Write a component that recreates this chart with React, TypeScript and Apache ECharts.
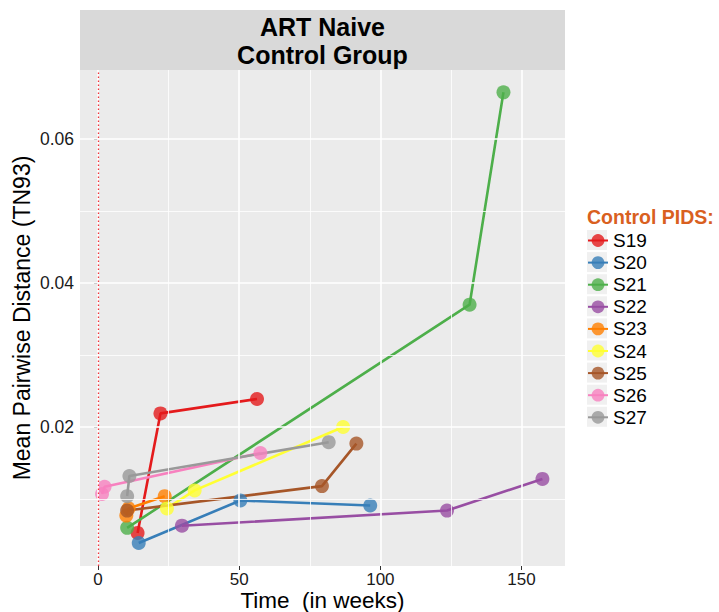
import React, { useEffect, useRef } from "react";
import * as echarts from "echarts";

const pids = ["S19", "S20", "S21", "S22", "S23", "S24", "S25", "S26", "S27"];
const colors = ["#E41A1C", "#377EB8", "#4DAF4A", "#984EA3", "#FF7F00", "#FFFF33", "#A65628", "#F781BF", "#999999"];

const s19 = [[14.0, 0.0053], [22.1, 0.0219], [56.3, 0.0239]];
const s20 = [[14.4, 0.0039], [50.4, 0.0098], [96.4, 0.0091]];
const s21 = [[10.3, 0.0060], [131.6, 0.0370], [143.6, 0.0665]];
const s22 = [[29.7, 0.0063], [123.6, 0.0084], [157.4, 0.0128]];
const s23 = [[10.0, 0.0077], [10.8, 0.0087], [23.6, 0.0104]];
const s24 = [[24.4, 0.0087], [34.2, 0.0112], [86.8, 0.0200]];
const s25 = [[10.3, 0.0084], [79.3, 0.0118], [91.5, 0.0177]];
const s26 = [[1.4, 0.0107], [2.3, 0.0117], [57.5, 0.0164]];
const s27 = [[10.3, 0.0104], [11.1, 0.0132], [81.7, 0.0179]];
const seriesData = [s19, s20, s21, s22, s23, s24, s25, s26, s27];

const xTicks = [0, 50, 100, 150];
const xMinor = [25, 75, 125];
const yTicks = [0.02, 0.04, 0.06];
const yMinor = [0.01, 0.03, 0.05];

const FONT = "Liberation Sans, Arial, Helvetica, sans-serif";

export default function App() {
  const ref = useRef<HTMLDivElement>(null);
  useEffect(() => {
    if (!ref.current) return;
    const chart = echarts.init(ref.current, null, { renderer: "svg" });
    const gridLines: any[] = [];
    xTicks.forEach((v) => gridLines.push({ xAxis: v, lineStyle: { color: "#ffffff", width: 1.6, type: "solid" } }));
    xMinor.forEach((v) => gridLines.push({ xAxis: v, lineStyle: { color: "#ffffff", width: 0.8, type: "solid" } }));
    yTicks.forEach((v) => gridLines.push({ yAxis: v, lineStyle: { color: "#ffffff", width: 1.6, type: "solid" } }));
    yMinor.forEach((v) => gridLines.push({ yAxis: v, lineStyle: { color: "#ffffff", width: 0.8, type: "solid" } }));

    const series: any[] = [
      {
        type: "line",
        name: "__grid",
        data: [],
        silent: true,
        z: 0,
        markLine: {
          silent: true,
          symbol: "none",
          label: { show: false },
          data: gridLines,
        },
      },
      {
        type: "line",
        name: "__vline",
        data: [],
        silent: true,
        z: 1,
        markLine: {
          silent: true,
          symbol: "none",
          label: { show: false },
          lineStyle: { color: "#F2333A", width: 1.3, type: [1.5, 2.5] },
          data: [{ xAxis: 0 }],
        },
      },
    ];
    pids.forEach((p, i) => {
      series.push({
        type: "line",
        name: p,
        data: seriesData[i],
        symbol: "circle",
        symbolSize: 14,
        showSymbol: true,
        z: 3,
        lineStyle: { color: colors[i], width: 2.6 },
        itemStyle: { color: colors[i], opacity: 0.8 },
      });
    });

    const keyRects: any[] = pids.map((_, i) => ({
      type: "rect",
      left: 587,
      top: 230 + i * 22.1,
      shape: { width: 20, height: 20 },
      style: { fill: "#F0F0F0" },
      z: 0,
    }));

    chart.setOption({
      animation: false,
      textStyle: { fontFamily: FONT },
      grid: {
        left: 80,
        right: 154,
        top: 70,
        bottom: 46,
        containLabel: false,
        outerBoundsMode: "none",
        show: true,
        backgroundColor: "#EBEBEB",
        borderWidth: 0,
      },
      xAxis: {
        type: "value",
        scale: true,
        min: -6.4,
        max: 165.4,
        name: "Time  (in weeks)",
        nameLocation: "middle",
        nameGap: 22.5,
        nameMoveOverlap: false,
        nameTextStyle: { fontSize: 22.5, color: "#000", fontFamily: FONT },
        axisLine: { show: false },
        axisTick: { show: true, length: 4, lineStyle: { color: "#333" }, customValues: xTicks },
        axisLabel: { fontSize: 17, color: "#1a1a1a", margin: 5, customValues: xTicks, formatter: (v: number) => String(v) },
        splitLine: { show: false },
      },
      yAxis: {
        type: "value",
        scale: true,
        min: 0.0007,
        max: 0.0696,
        name: "Mean Pairwise Distance (TN93)",
        nameLocation: "middle",
        nameGap: 47,
        nameMoveOverlap: false,
        nameTextStyle: { fontSize: 23, color: "#000", fontFamily: FONT },
        axisLine: { show: false },
        axisTick: { show: true, length: 4, lineStyle: { color: "#333" }, customValues: yTicks },
        axisLabel: { fontSize: 17.5, color: "#1a1a1a", margin: 6, customValues: yTicks, formatter: (v: number) => v.toFixed(2) },
        splitLine: { show: false },
      },
      legend: {
        data: pids,
        orient: "vertical",
        left: 587,
        top: 231,
        padding: 0,
        itemWidth: 20,
        itemHeight: 16,
        itemGap: 3.1,
        textStyle: { fontSize: 19, color: "#000", fontFamily: FONT },
        selectedMode: false,
      },
      graphic: [
        {
          type: "rect",
          left: 80,
          top: 10,
          shape: { width: 485, height: 60 },
          style: { fill: "#D9D9D9" },
        },
        {
          type: "text",
          x: 322.5,
          y: 41,
          style: {
            text: "ART Naive\nControl Group",
            fontSize: 25,
            fontWeight: "bold",
            fontFamily: FONT,
            fill: "#000",
            align: "center",
            verticalAlign: "middle",
            lineHeight: 28,
          },
        },
        {
          type: "text",
          x: 587,
          y: 217,
          style: {
            text: "Control PIDS:",
            fontSize: 19.5,
            fontWeight: "bold",
            fontFamily: FONT,
            fill: "#D9601F",
            verticalAlign: "middle",
          },
        },
        ...keyRects,
      ],
      series,
    });
    return () => chart.dispose();
  }, []);
  return <div ref={ref} style={{ position: "absolute", left: 0, top: 0, width: 719, height: 612 }} />;
}
